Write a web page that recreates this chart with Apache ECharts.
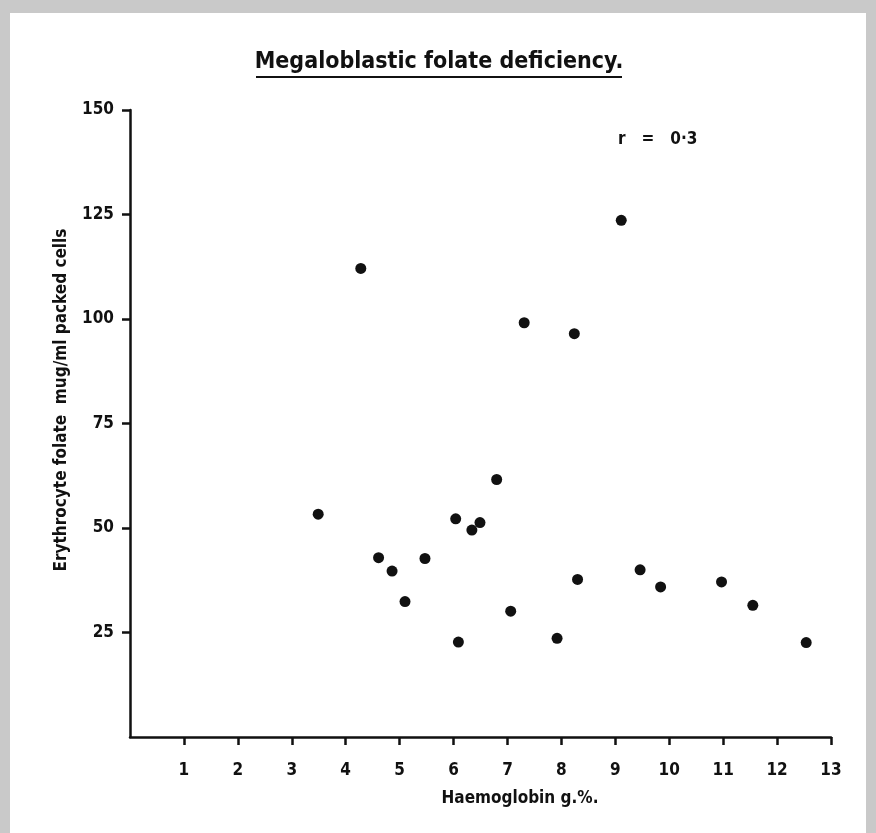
<!DOCTYPE html>
<html>
<head>
<meta charset="utf-8">
<script src="https://cdn.jsdelivr.net/npm/echarts@6/dist/echarts.min.js"></script>
<style>
html,body{margin:0;padding:0;background:#c9c9c9;}
#chart{width:876px;height:833px;}
</style>
</head>
<body>
<div id="chart"></div>
<script>
// Haemoglobin (g %) and erythrocyte folate (mug/ml packed cells)
const haemoglobin = [4.28, 9.11, 7.31, 8.24, 3.49, 6.80, 6.04, 6.49, 6.34, 4.61, 4.86,
                     5.47, 5.10, 6.09, 7.06, 7.92, 8.30, 9.46, 9.84, 10.97, 11.55, 12.54];
const folate      = [112.1, 123.6, 99.1, 96.5, 53.3, 61.6, 52.2, 51.3, 49.5, 42.9, 39.7,
                     42.7, 32.4, 22.7, 30.1, 23.6, 37.7, 40.0, 35.9, 37.1, 31.5, 22.6];
const xTicks = [1, 2, 3, 4, 5, 6, 7, 8, 9, 10, 11, 12, 13];
const yTicks = [25, 50, 75, 100, 125, 150];
const titleText = 'Megaloblastic folate deficiency.';
const xName = 'Haemoglobin g.%.';
const yName = 'Erythrocyte folate  mug/ml packed cells';
const rText = 'r   =   0\u00B73';

const FONT = '"DejaVu Sans Condensed", "Liberation Sans Narrow", sans-serif';
const chart = echarts.init(document.getElementById('chart'));
const points = haemoglobin.map((h, i) => [h, folate[i]]);

chart.setOption({
  backgroundColor: '#c9c9c9',
  animation: false,
  grid: { left: 130, right: 45, top: 110, bottom: 96 },
  graphic: [
    { type: 'rect', z: -10, shape: { x: 10, y: 13, width: 856, height: 830 }, style: { fill: '#ffffff' } },
    { type: 'text', x: 439, y: 62,
      style: { text: titleText, font: 'bold 23px ' + FONT, fill: '#111', align: 'center', verticalAlign: 'middle' } },
    { type: 'line', shape: { x1: 256, y1: 77, x2: 622, y2: 77 }, style: { stroke: '#111', lineWidth: 2 } },
    { type: 'text', x: 618, y: 140,
      style: { text: rText, font: 'bold 17px ' + FONT, fill: '#111', verticalAlign: 'middle' } },
    { type: 'text', x: 520, y: 799,
      style: { text: xName, font: 'bold 17px ' + FONT, fill: '#111', align: 'center', verticalAlign: 'middle' } },
    { type: 'text', x: 62, y: 400, rotation: Math.PI / 2,
      style: { text: yName, font: 'bold 17px ' + FONT, fill: '#111', align: 'center', verticalAlign: 'middle' } }
  ],
  xAxis: {
    type: 'value', min: 0, max: 13, interval: 1,
    axisLine: { show: true, lineStyle: { color: '#111', width: 2.5 } },
    axisTick: { show: true, customValues: xTicks, length: 8, lineStyle: { color: '#111', width: 2.5 } },
    axisLabel: { customValues: xTicks, margin: 25, color: '#111', fontSize: 17, fontWeight: 'bold', fontFamily: FONT },
    splitLine: { show: false }
  },
  yAxis: {
    type: 'value', min: 0, max: 150, interval: 25,
    axisLine: { show: true, lineStyle: { color: '#111', width: 2.5 } },
    axisTick: { show: true, customValues: yTicks, length: 8, lineStyle: { color: '#111', width: 2.5 } },
    axisLabel: { customValues: yTicks, margin: 16, color: '#111', fontSize: 17, fontWeight: 'bold', fontFamily: FONT },
    splitLine: { show: false }
  },
  series: [{
    type: 'scatter',
    data: points,
    symbol: 'circle',
    symbolSize: 11,
    itemStyle: { color: '#111', opacity: 1 }
  }]
});
</script>
</body>
</html>
